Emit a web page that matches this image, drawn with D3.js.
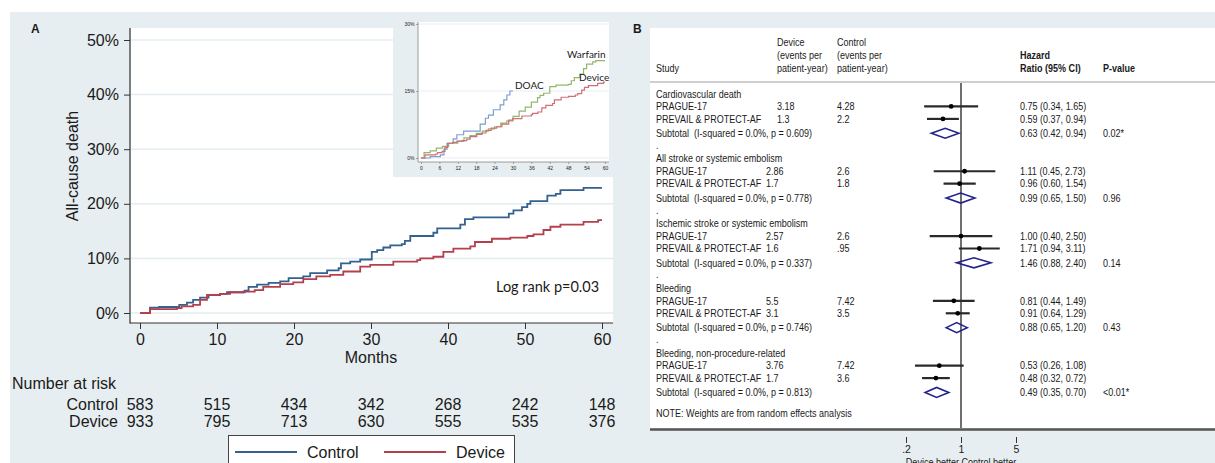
<!DOCTYPE html>
<html>
<head>
<meta charset="utf-8">
<script src="https://cdn.jsdelivr.net/npm/d3@7"></script>
<style>
  body { margin: 0; background: #fff; }
  svg { display: block; }
  text { font-family: "Liberation Sans", Arial, sans-serif; fill: #1a1a1a; }
  .narrow text, text.narrow { font-family: "Liberation Sans Narrow", "Arial Narrow", "Liberation Sans", sans-serif; font-size: 10.5px; }
  .calibri { font-family: Lato, "Open Sans", sans-serif; }
</style>
</head>
<body>
<div id="chart"></div>
<script>
// ---- Panel A data (Kaplan-Meier, % with event by month) ----
var monthTicks = [0, 10, 20, 30, 40, 50, 60]
var pctTicks = [0, 10, 20, 30, 40, 50]
var riskLabels = ["Control", "Device"]
var riskControl = [583, 515, 434, 342, 268, 242, 148]
var riskDevice = [933, 795, 713, 630, 555, 535, 376]

var controlKM = [[0,0],[1.3,1.0],[2.5,1.1],[5.1,1.5],[6.1,1.9],[6.9,2.4],[7.8,2.8],[8.9,3.3],[10.4,3.5],[11.3,3.8],[13.6,4.1],[14.1,4.8],[15.2,5.2],[16.7,5.5],[18.2,5.8],[19.3,6.4],[21.2,6.7],[22.1,7.3],[24.3,7.8],[25.8,8.2],[26.1,9.1],[27.3,9.4],[28.6,9.8],[30.1,11.2],[30.8,11.5],[31.6,12.0],[32.5,12.4],[34.0,12.6],[34.4,13.2],[35.1,14.1],[38.1,14.7],[38.6,15.5],[41.6,16.2],[42.2,17.2],[43.3,17.5],[47.9,18.2],[48.5,18.8],[49.6,19.4],[50.3,20.0],[50.7,20.5],[52.9,21.5],[54.0,21.8],[54.6,22.5],[57.6,22.9],[60,22.9]]
var deviceKM = [[0,0],[1.3,0.7],[4.8,0.9],[5.4,1.2],[6.9,1.5],[7.8,2.4],[8.7,3.3],[10.4,3.5],[11.7,3.8],[13.4,3.9],[14.9,4.2],[16.0,4.8],[18.2,5.3],[19.9,5.6],[21.2,6.2],[22.9,6.7],[24.7,7.0],[26.4,7.6],[28.6,8.5],[29.9,8.8],[32.9,9.4],[36.0,9.7],[36.4,10.0],[38.1,10.3],[39.4,11.2],[40.7,11.8],[42.9,12.2],[43.5,13.0],[45.7,13.6],[48.1,13.8],[50.3,14.1],[51.1,14.4],[52.4,15.2],[53.3,15.8],[54.6,16.2],[57.6,16.7],[59.5,17.0],[60,17.0]]

// inset: DOAC / Warfarin / Device
var insetMonthTicks = [0, 6, 12, 18, 24, 30, 36, 42, 48, 54, 60]
var insetPctTicks = [0, 15, 30]
var doacKM = [[0,0],[3,0.3],[6.3,0.7],[7.5,2.0],[8.5,3.3],[10.5,4.3],[11.7,5.2],[13.9,6.0],[19.3,7.6],[21,8.9],[22,9.6],[23.6,10.8],[25.8,11.9],[27,13.0],[28,14.1],[29,15.0],[30,15.0]]
var warfarinKM = [[0,0],[1,1.2],[3,1.6],[5,2.2],[7,2.6],[9,3.3],[12,3.7],[14,4.5],[16,5.0],[18,5.5],[20,6.0],[22,6.5],[24,7.0],[26,7.8],[28,8.3],[30,9.3],[32,10.5],[34,11.4],[36,12.5],[38,13.5],[38.8,14.0],[40,14.5],[42,16.0],[44,16.3],[48,16.5],[49,17.3],[50,18.0],[51.8,18.8],[53,20.0],[54,21.0],[56,21.5],[57,21.8],[60,21.8]]

// ---- Panel B data (forest plot) ----
var outcomes = ["Cardiovascular death", "All stroke or systemic embolism", "Ischemic stroke or systemic embolism", "Bleeding", "Bleeding, non-procedure-related"]
var studies = ["PRAGUE-17", "PREVAIL & PROTECT-AF"]
var deviceRates = [["3.18", "1.3"], ["2.86", "1.7"], ["2.57", "1.6"], ["5.5", "3.1"], ["3.76", "1.7"]]
var controlRates = [["4.28", "2.2"], ["2.6", "1.8"], ["2.6", ".95"], ["7.42", "3.5"], ["7.42", "3.6"]]
var studyHR = [
  [[0.75, 0.34, 1.65], [0.59, 0.37, 0.94]],
  [[1.11, 0.45, 2.73], [0.96, 0.60, 1.54]],
  [[1.00, 0.40, 2.50], [1.71, 0.94, 3.11]],
  [[0.81, 0.44, 1.49], [0.91, 0.64, 1.29]],
  [[0.53, 0.26, 1.08], [0.48, 0.32, 0.72]]
]
var subtotalHR = [[0.63, 0.42, 0.94], [0.99, 0.65, 1.50], [1.46, 0.88, 2.40], [0.88, 0.65, 1.20], [0.49, 0.35, 0.70]]
var hetP = ["0.609", "0.778", "0.337", "0.746", "0.813"]
var pValues = ["0.02*", "0.96", "0.14", "0.43", "<0.01*"]
var hrTicks = [0.2, 1, 5]

var W = 1215, H = 463
var bg = "#e7eef1"
var blue = "#33628f", red = "#b4404e"

var svg = d3.select("#chart").append("svg").attr("width", W).attr("height", H)
svg.append("rect").attr("x", 10).attr("y", 12).attr("width", W - 10).attr("height", H - 12).attr("fill", bg)

// ================= Panel A =================
var plotA = { left: 131, top: 28, right: 613, bottom: 323 }
var x = d3.scaleLinear().domain([0, 60]).range([140, 602])
var y = d3.scaleLinear().domain([0, 50]).range([313, 40])

svg.append("text").attr("x", 31).attr("y", 33).attr("font-weight", "bold").attr("font-size", 12).text("A")

svg.append("rect")
  .attr("x", plotA.left).attr("y", plotA.top)
  .attr("width", plotA.right - plotA.left).attr("height", plotA.bottom - plotA.top)
  .attr("fill", "#fff")

// gridlines
svg.append("g").selectAll("line").data(pctTicks).enter().append("line")
  .attr("x1", plotA.left).attr("x2", plotA.right)
  .attr("y1", function(d) { return y(d) }).attr("y2", function(d) { return y(d) })
  .attr("stroke", "#e3ecf0").attr("stroke-width", 1.5)

// curves
var kmLine = d3.line()
  .x(function(d) { return x(d[0]) })
  .y(function(d) { return y(d[1]) })
  .curve(d3.curveStepAfter)

svg.append("path").datum(controlKM).attr("d", kmLine).attr("fill", "none").attr("stroke", blue).attr("stroke-width", 1.8)
svg.append("path").datum(deviceKM).attr("d", kmLine).attr("fill", "none").attr("stroke", red).attr("stroke-width", 1.8)

// axes
var yAxis = svg.append("g").attr("transform", "translate(" + 130 + ",0)")
  .call(d3.axisLeft(y).tickValues(pctTicks).tickFormat(function(d) { return d + "%" }).tickSize(6).tickPadding(5))
var xAxis = svg.append("g").attr("transform", "translate(0," + 323 + ")")
  .call(d3.axisBottom(x).tickValues(monthTicks).tickSize(6).tickPadding(5))
;[yAxis, xAxis].forEach(function(ax) {
  ax.select(".domain").remove()
  ax.selectAll(".tick line").attr("stroke", "#333")
  ax.selectAll(".tick text").attr("font-size", 16).attr("font-family", "Liberation Sans, Arial, sans-serif").attr("fill", "#1a1a1a")
})
svg.append("line").attr("x1", 130).attr("x2", 130).attr("y1", plotA.top).attr("y2", plotA.bottom + 0.5).attr("stroke", "#333").attr("stroke-width", 1.2)
svg.append("line").attr("x1", 130).attr("x2", plotA.right).attr("y1", plotA.bottom).attr("y2", plotA.bottom).attr("stroke", "#333").attr("stroke-width", 1.2)

svg.append("text").attr("transform", "translate(78,166) rotate(-90)").attr("text-anchor", "middle")
  .attr("font-size", 16).text("All-cause death")
svg.append("text").attr("x", x(30)).attr("y", 363).attr("text-anchor", "middle").attr("font-size", 16).text("Months")

svg.append("text").attr("class", "calibri").attr("x", 496).attr("y", 292).attr("font-size", 14.5).text("Log rank p=0.03")

// number at risk
svg.append("text").attr("x", 12).attr("y", 389).attr("font-size", 16).text("Number at risk")
var riskRows = [riskControl, riskDevice]
riskRows.forEach(function(row, i) {
  var ry = 410 + i * 17
  svg.append("text").attr("x", 118).attr("y", ry).attr("text-anchor", "end").attr("font-size", 16).text(riskLabels[i])
  svg.append("g").selectAll("text").data(row).enter().append("text")
    .attr("x", function(d, j) { return x(monthTicks[j]) })
    .attr("y", ry).attr("text-anchor", "middle").attr("font-size", 16)
    .text(function(d) { return d })
})

// legend
var legend = svg.append("g")
legend.append("rect").attr("x", 228.5).attr("y", 435.5).attr("width", 286).attr("height", 40)
  .attr("fill", "#fff").attr("stroke", "#444").attr("stroke-width", 1)
var legendItems = [{ label: "Control", color: blue, x0: 235 }, { label: "Device", color: red, x0: 384 }]
legendItems.forEach(function(it) {
  legend.append("line").attr("x1", it.x0).attr("x2", it.x0 + 62).attr("y1", 452).attr("y2", 452)
    .attr("stroke", it.color).attr("stroke-width", 1.8)
  legend.append("text").attr("x", it.x0 + 72).attr("y", 458).attr("font-size", 16).text(it.label)
})

// ---- inset ----
var inset = { left: 418, top: 22, right: 609, bottom: 162 }
svg.append("rect").attr("x", 393).attr("y", 12).attr("width", 222).attr("height", 165).attr("fill", bg)
svg.append("rect").attr("x", inset.left).attr("y", inset.top)
  .attr("width", inset.right - inset.left).attr("height", inset.bottom - inset.top).attr("fill", "#fff")
var xi = d3.scaleLinear().domain([0, 60]).range([421, 605])
var yi = d3.scaleLinear().domain([0, 30]).range([158, 24])

svg.append("g").selectAll("line").data(insetPctTicks).enter().append("line")
  .attr("x1", inset.left).attr("x2", inset.right)
  .attr("y1", function(d) { return yi(d) }).attr("y2", function(d) { return yi(d) })
  .attr("stroke", "#e6eef2").attr("stroke-width", 1)

var insetLine = d3.line()
  .x(function(d) { return xi(d[0]) })
  .y(function(d) { return yi(d[1]) })
  .curve(d3.curveStepAfter)
var insetSeries = [
  { data: doacKM, color: "#7b9fce" },
  { data: warfarinKM, color: "#93b66d" },
  { data: deviceKM, color: "#cf6f78" }
]
insetSeries.forEach(function(s) {
  svg.append("path").datum(s.data).attr("d", insetLine).attr("fill", "none").attr("stroke", s.color).attr("stroke-width", 1.2)
})

var yiAxis = svg.append("g").attr("transform", "translate(" + inset.left + ",0)")
  .call(d3.axisLeft(yi).tickValues(insetPctTicks).tickFormat(function(d) { return d + "%" }).tickSize(2).tickPadding(1.5))
var xiAxis = svg.append("g").attr("transform", "translate(0," + inset.bottom + ")")
  .call(d3.axisBottom(xi).tickValues(insetMonthTicks).tickSize(2).tickPadding(2))
;[yiAxis, xiAxis].forEach(function(ax) {
  ax.select(".domain").remove()
  ax.selectAll(".tick line").attr("stroke", "#777").attr("stroke-width", 0.6)
  ax.selectAll(".tick text").attr("font-size", 5).attr("font-family", "Liberation Sans, Arial, sans-serif").attr("fill", "#444")
})
svg.append("line").attr("x1", inset.left).attr("x2", inset.left).attr("y1", inset.top).attr("y2", inset.bottom).attr("stroke", "#777").attr("stroke-width", 0.7)
svg.append("line").attr("x1", inset.left).attr("x2", inset.right).attr("y1", inset.bottom).attr("y2", inset.bottom).attr("stroke", "#777").attr("stroke-width", 0.7)

var insetLabels = [
  { text: "DOAC", px: 515, py: 89 },
  { text: "Warfarin", px: 567, py: 58 },
  { text: "Device", px: 579, py: 81 }
]
svg.append("g").selectAll("text").data(insetLabels).enter().append("text")
  .attr("class", "calibri").attr("font-size", 10)
  .attr("x", function(d) { return d.px }).attr("y", function(d) { return d.py })
  .text(function(d) { return d.text })

// ================= Panel B =================
var plotB = { left: 650, top: 28, right: W, bottom: 428 }
svg.append("text").attr("x", 633).attr("y", 33).attr("font-weight", "bold").attr("font-size", 12).text("B")
svg.append("rect").attr("x", plotB.left).attr("y", plotB.top)
  .attr("width", plotB.right - plotB.left).attr("height", plotB.bottom - plotB.top).attr("fill", "#fff")

var hr = d3.scaleLog().domain([0.2, 5]).range([906, 1016])
var col = { study: 656, device: 766, control: 837, hr: 1020, p: 1103 }

// condensed text (Stata uses Arial Narrow)
var squeeze = 0.86
function narrow(parent, tx, ty, str, dy) {
  return parent.append("text")
    .attr("transform", "translate(" + tx + "," + ty + ") scale(" + squeeze + ",1)")
    .attr("dy", dy || null)
    .text(str)
}

// header
var header = svg.append("g").attr("class", "narrow")
narrow(header, col.study, 72, "Study")
;["Device", "(events per", "patient-year)"].forEach(function(t, i) { narrow(header, 777, 46 + i * 13, t) })
;["Control", "(events per", "patient-year)"].forEach(function(t, i) { narrow(header, col.control, 46 + i * 13, t) })
;["Hazard", "Ratio (95% CI)"].forEach(function(t, i) {
  narrow(header, col.hr, 59 + i * 13, t).attr("font-weight", "bold")
})
narrow(header, col.p, 72, "P-value").attr("font-weight", "bold")
svg.append("line").attr("x1", plotB.left).attr("x2", plotB.right).attr("y1", 82).attr("y2", 82)
  .attr("stroke", "#cfcfcf").attr("stroke-width", 2)

// rows
var rowY = d3.scaleLinear().domain([0, 1]).range([94, 94 + 12.46])
var groupSlots = 5.2
var fmt = d3.format(".2f")
var hrText = function(v) { return fmt(v[0]) + " (" + fmt(v[1]) + ", " + fmt(v[2]) + ")" }

svg.append("line").attr("x1", hr(1)).attr("x2", hr(1)).attr("y1", 83).attr("y2", plotB.bottom)
  .attr("stroke", "#333").attr("stroke-width", 1.4)

var rows = svg.append("g").attr("class", "narrow")
outcomes.forEach(function(name, g) {
  var s0 = g * groupSlots
  narrow(rows, col.study, rowY(s0), name, "0.35em")
  studies.forEach(function(st, k) {
    var yy = rowY(s0 + 1 + k)
    var v = studyHR[g][k]
    narrow(rows, col.study, yy, st, "0.35em")
    narrow(rows, g === 0 ? 777 : col.device, yy, deviceRates[g][k], "0.35em")
    narrow(rows, col.control, yy, controlRates[g][k], "0.35em")
    narrow(rows, col.hr, yy, hrText(v), "0.35em")
    svg.append("line").attr("x1", hr(v[1])).attr("x2", hr(v[2])).attr("y1", yy).attr("y2", yy)
      .attr("stroke", "#2a2a2a").attr("stroke-width", 2.2)
    svg.append("circle").attr("cx", hr(v[0])).attr("cy", yy).attr("r", 2.4).attr("fill", "#000")
  })
  var ys = rowY(s0 + 3.15)
  var sv = subtotalHR[g]
  narrow(rows, col.study, ys, "Subtotal  (I-squared = 0.0%, p = " + hetP[g] + ")", "0.35em").attr("xml:space", "preserve")
  narrow(rows, col.hr, ys, hrText(sv), "0.35em")
  narrow(rows, col.p, ys, pValues[g], "0.35em")
  svg.append("polygon")
    .attr("points", [[hr(sv[1]), ys], [hr(sv[0]), ys - 5], [hr(sv[2]), ys], [hr(sv[0]), ys + 5]].join(" "))
    .attr("fill", "none").attr("stroke", "#23238c").attr("stroke-width", 1.6)
  // separator dot between outcome groups
  if (g < outcomes.length - 1) narrow(rows, col.study, rowY(s0 + 4.1), ".", "0.35em")
})
narrow(rows, col.study, rowY(25.6), "NOTE: Weights are from random effects analysis", "0.35em")

// bottom axis
svg.append("line").attr("x1", plotB.left).attr("x2", plotB.right).attr("y1", 429.5).attr("y2", 429.5)
  .attr("stroke", "#555").attr("stroke-width", 2.5)
var hrAxis = svg.append("g").attr("transform", "translate(0,437)")
  .call(d3.axisBottom(hr).tickValues(hrTicks).tickFormat(function(d) { return d === 0.2 ? ".2" : d }).tickSize(6).tickPadding(3))
hrAxis.select(".domain").remove()
hrAxis.selectAll(".tick line").attr("stroke", "#333")
hrAxis.selectAll(".tick text").attr("font-size", 10.5).attr("fill", "#1a1a1a")
  .attr("font-family", "Liberation Sans, Arial, sans-serif")
var foot = svg.append("g").attr("class", "narrow")
narrow(foot, hr(1), 466, "Device better Control better").attr("text-anchor", "middle")
</script>
</body>
</html>
